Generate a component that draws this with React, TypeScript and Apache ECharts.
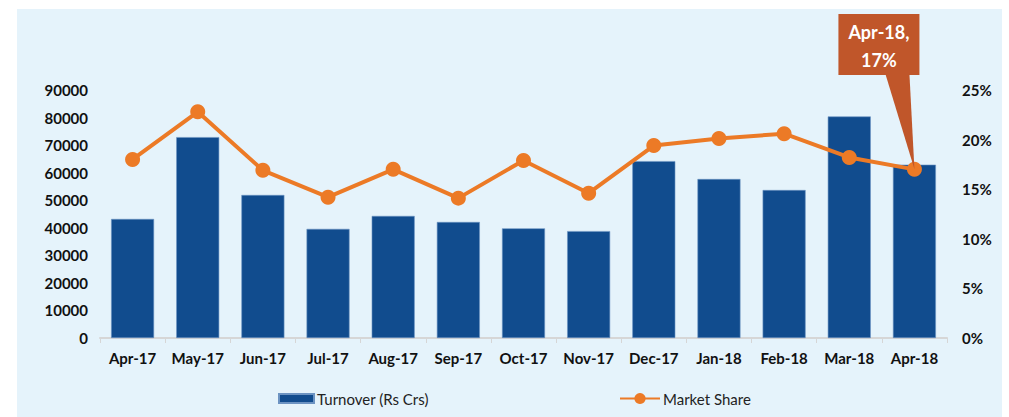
import React, { useEffect, useRef } from "react";
import * as echarts from "echarts";

const categories = ["Apr-17", "May-17", "Jun-17", "Jul-17", "Aug-17", "Sep-17", "Oct-17", "Nov-17", "Dec-17", "Jan-18", "Feb-18", "Mar-18", "Apr-18"];
const turnover = [43200, 72900, 51900, 39600, 44300, 42100, 39800, 38800, 64200, 57700, 53700, 80400, 62900];
const marketShare = [18.0, 22.8, 16.9, 14.2, 17.0, 14.1, 17.9, 14.6, 19.4, 20.1, 20.6, 18.2, 17.0];
const leftTicks = { min: 0, max: 90000, interval: 10000 };
const rightTicks = { min: 0, max: 25, interval: 5 };
const calloutLines = ["Apr-18,", "17%"];

const FONT = "Lato, 'Open Sans', sans-serif";

export default function App() {
  const ref = useRef<HTMLDivElement>(null);
  useEffect(() => {
    document.body.style.margin = "0";
    const chart = echarts.init(ref.current!, null, { renderer: "svg" });
    const option: any = {
      animation: false,
      backgroundColor: "#ffffff",
      textStyle: { fontFamily: FONT },
      grid: { left: 100, right: 62, top: 90, bottom: 79 },
      legend: [
        {
          data: [{ name: "Turnover (Rs Crs)", icon: "rect" }],
          left: 273,
          top: 386,
          itemWidth: 35,
          itemHeight: 9,
          itemGap: 4,
          textStyle: { fontFamily: FONT, fontSize: 15, color: "#222", padding: [0, 0, 0, -2] },
        },
        {
          data: [{ name: "Market Share" }],
          left: 614,
          top: 386,
          itemWidth: 40,
          itemHeight: 14,
          textStyle: { fontFamily: FONT, fontSize: 15, color: "#222", padding: [0, 0, 0, -2] },
        },
      ],
      xAxis: {
        type: "category",
        data: categories,
        axisLine: { lineStyle: { color: "#D6D6D6", width: 2 } },
        axisTick: { show: true, length: 5, lineStyle: { color: "#D6D6D6", width: 1 } },
        axisLabel: { interval: 0, hideOverlap: false, fontFamily: FONT, fontSize: 15, fontWeight: "bold", color: "#111", margin: 12 },
      },
      yAxis: [
        {
          type: "value",
          ...leftTicks,
          splitLine: { show: false },
          axisLine: { show: false },
          axisTick: { show: false },
          axisLabel: { fontFamily: FONT, fontSize: 15, fontWeight: "bold", color: "#111", margin: 12, formatter: (v: number) => String(v) },
        },
        {
          type: "value",
          ...rightTicks,
          position: "right",
          splitLine: { show: false },
          axisLine: { show: false },
          axisTick: { show: false },
          axisLabel: { fontFamily: FONT, fontSize: 15, fontWeight: "bold", color: "#111", margin: 15, formatter: "{value}%" },
        },
      ],
      series: [
        {
          name: "Turnover (Rs Crs)",
          type: "bar",
          data: turnover,
          barWidth: "66%",
          itemStyle: { color: "#114C8E", borderColor: "#6C93C2", borderWidth: 0.6 },
        },
        {
          name: "Market Share",
          type: "line",
          yAxisIndex: 1,
          data: marketShare,
          symbol: "circle",
          symbolSize: 15,
          lineStyle: { color: "#EC7A26", width: 4 },
          itemStyle: { color: "#EC7A26" },
        },
      ],
      graphic: [
        {
          type: "rect",
          left: 17,
          top: 9,
          shape: { width: 985, height: 420 },
          style: { fill: "#E5F3FB" },
          z: -10,
          silent: true,
        },
      ],
    };
    chart.setOption(option);

    const last = categories.length - 1;
    const tip = chart.convertToPixel({ seriesIndex: 1 }, [last, marketShare[last]]) as number[];
    const boxW = 81;
    const boxH = 61;
    const boxX = tip[0] - 76;
    const boxY = 14;
    chart.setOption({
      graphic: [
        option.graphic[0],
        {
          type: "polygon",
          shape: {
            points: [
              [tip[0] - 29, boxY + boxH - 1],
              [tip[0] - 5, boxY + boxH - 1],
              [tip[0], tip[1]],
            ],
          },
          style: { fill: "#C0562A" },
          z: 100,
        },
        {
          type: "rect",
          shape: { x: boxX, y: boxY, width: boxW, height: boxH },
          style: { fill: "#C0562A" },
          z: 100,
        },
        {
          type: "text",
          x: boxX + boxW / 2,
          y: boxY + 18,
          style: {
            text: calloutLines[0],
            fill: "#fff",
            font: `bold 18px ${FONT}`,
            align: "center",
            verticalAlign: "middle",
          },
          z: 101,
        },
        {
          type: "text",
          x: boxX + boxW / 2,
          y: boxY + 46,
          style: {
            text: calloutLines[1],
            fill: "#fff",
            font: `bold 18px ${FONT}`,
            align: "center",
            verticalAlign: "middle",
          },
          z: 101,
        },
      ],
    });
    return () => chart.dispose();
  }, []);
  return <div ref={ref} style={{ width: 1009, height: 417 }} />;
}
